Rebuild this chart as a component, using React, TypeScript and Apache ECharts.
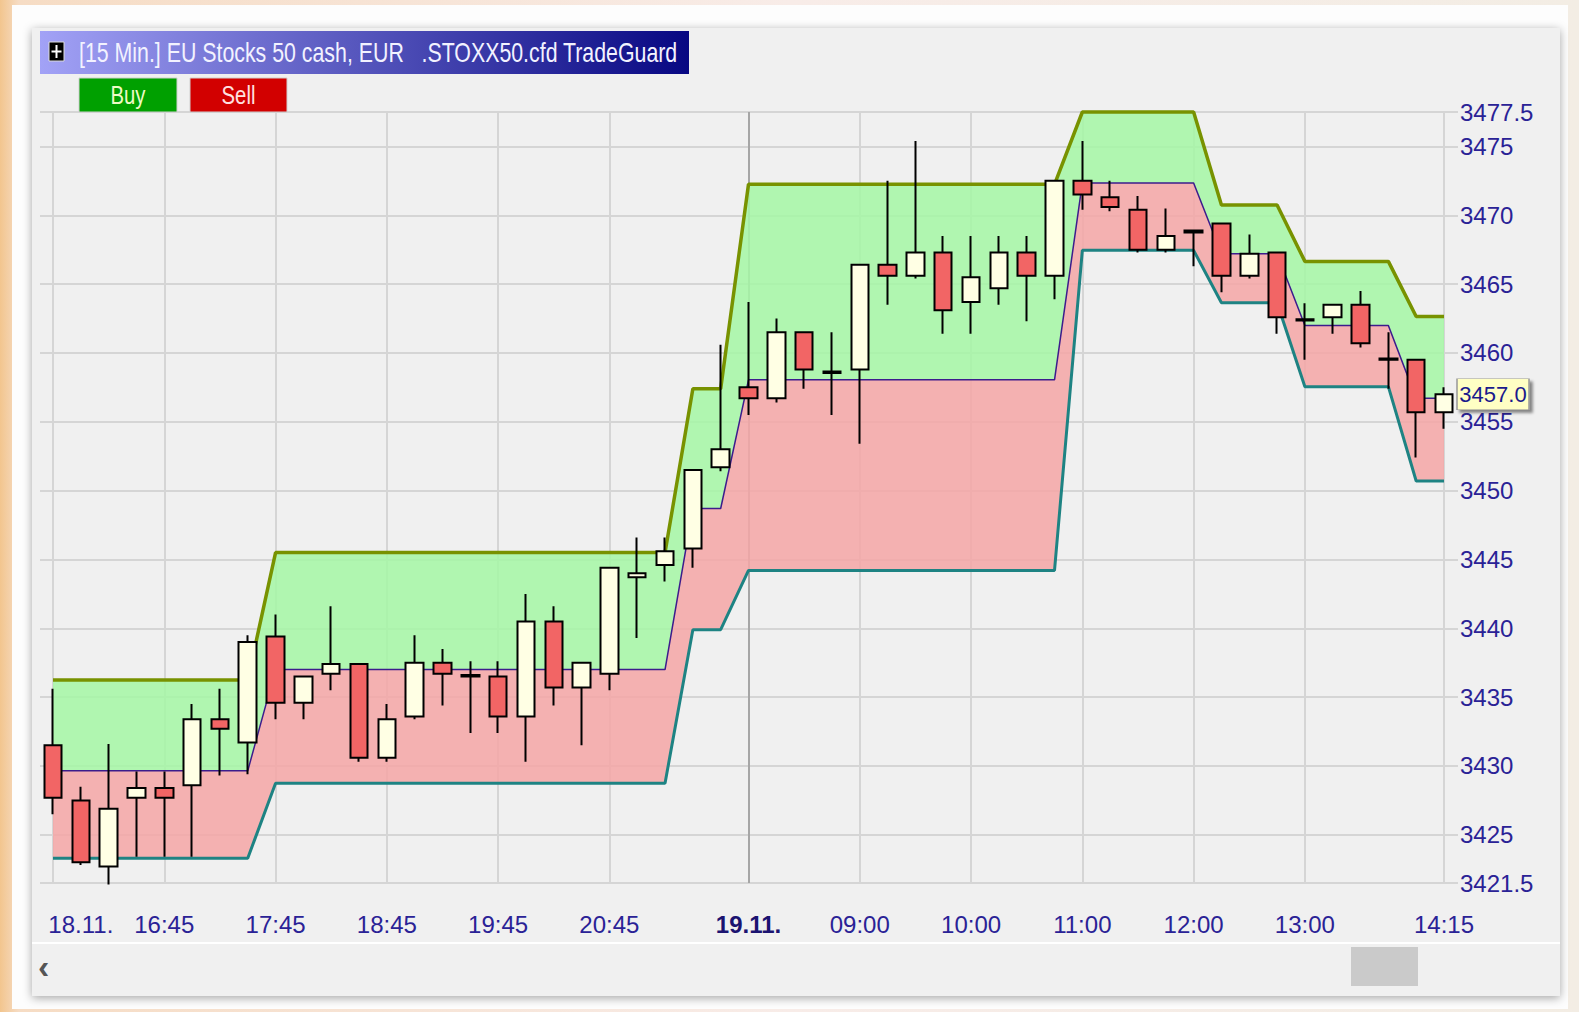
import React, { useEffect, useRef } from 'react';
import * as echarts from 'echarts';

// ---------- data ----------
const times = [
  '15:45', '16:00', '16:15', '16:30', '16:45', '17:00', '17:15', '17:30', '17:45', '18:00',
  '18:15', '18:30', '18:45', '19:00', '19:15', '19:30', '19:45', '20:00', '20:15', '20:30',
  '20:45', '21:00', '21:15', '21:30', '21:45',
  '08:00', '08:15', '08:30', '08:45', '09:00', '09:15', '09:30', '09:45', '10:00', '10:15',
  '10:30', '10:45', '11:00', '11:15', '11:30', '11:45', '12:00', '12:15', '12:30', '12:45',
  '13:00', '13:15', '13:30', '13:45', '14:00', '14:15',
];

const opens = [
  3431.5, 3427.5, 3422.7, 3427.7, 3428.4, 3428.6, 3433.4, 3431.7, 3439.4, 3434.6,
  3436.7, 3437.4, 3430.6, 3433.6, 3437.5, 3436.6, 3436.5, 3433.6, 3440.5, 3435.7,
  3436.7, 3443.7, 3444.6, 3445.8, 3451.7,
  3457.5, 3456.7, 3461.5, 3458.65, 3458.8, 3466.4, 3465.6, 3467.3, 3463.7, 3464.7,
  3467.3, 3465.6, 3472.5, 3471.3, 3470.4, 3467.5, 3468.9, 3469.4, 3465.6, 3467.3,
  3462.45, 3462.6, 3463.5, 3459.6, 3459.5, 3455.7,
];
const closes = [
  3427.7, 3423.0, 3426.9, 3428.4, 3427.7, 3433.4, 3432.7, 3439.0, 3434.6, 3436.5,
  3437.4, 3430.6, 3433.4, 3437.5, 3436.7, 3436.5, 3433.6, 3440.5, 3435.7, 3437.5,
  3444.4, 3444.0, 3445.6, 3451.5, 3453.0,
  3456.7, 3461.5, 3458.8, 3458.55, 3466.4, 3465.6, 3467.3, 3463.1, 3465.5, 3467.3,
  3465.6, 3472.5, 3471.5, 3470.6, 3467.5, 3468.5, 3468.75, 3465.6, 3467.2, 3462.6,
  3462.35, 3463.5, 3460.7, 3459.5, 3455.7, 3457.0,
];
const lows = [
  3426.5, 3422.8, 3421.4, 3423.4, 3423.4, 3423.4, 3429.3, 3429.4, 3433.4, 3433.4,
  3435.5, 3430.3, 3430.3, 3433.4, 3434.4, 3432.4, 3432.4, 3430.3, 3434.4, 3431.5,
  3435.5, 3439.3, 3443.4, 3444.4, 3451.4,
  3455.5, 3456.4, 3457.4, 3455.5, 3453.4, 3463.5, 3465.4, 3461.4, 3461.4, 3463.5,
  3462.3, 3463.9, 3470.4, 3470.3, 3467.3, 3467.3, 3466.3, 3464.4, 3465.4, 3461.4,
  3459.5, 3461.4, 3460.4, 3457.4, 3452.4, 3454.5,
];
const highs = [
  3435.6, 3428.5, 3431.6, 3429.6, 3429.6, 3434.5, 3435.6, 3439.5, 3441.0, 3436.5,
  3441.6, 3437.4, 3434.5, 3439.5, 3438.5, 3437.6, 3437.6, 3442.5, 3441.6, 3437.5,
  3444.4, 3446.6, 3446.6, 3451.5, 3460.6,
  3463.7, 3462.5, 3461.5, 3461.5, 3466.4, 3472.5, 3475.4, 3468.5, 3468.5, 3468.5,
  3468.5, 3472.5, 3475.4, 3472.5, 3471.4, 3470.5, 3468.9, 3469.4, 3468.6, 3467.3,
  3463.6, 3463.5, 3464.5, 3461.5, 3459.5, 3457.5,
];

const upperBand = [
  3436.25, 3436.25, 3436.25, 3436.25, 3436.25, 3436.25, 3436.25, 3436.25,
  3445.5, 3445.5, 3445.5, 3445.5, 3445.5, 3445.5, 3445.5, 3445.5, 3445.5, 3445.5,
  3445.5, 3445.5, 3445.5, 3445.5, 3445.5,
  3457.4, 3457.4,
  3472.25, 3472.25, 3472.25, 3472.25, 3472.25, 3472.25, 3472.25, 3472.25, 3472.25, 3472.25,
  3472.25, 3472.25,
  3477.5, 3477.5, 3477.5, 3477.5, 3477.5,
  3470.75, 3470.75, 3470.75,
  3466.65, 3466.65, 3466.65, 3466.65,
  3462.65, 3462.65,
];
const middleBand = [
  3429.65, 3429.65, 3429.65, 3429.65, 3429.65, 3429.65, 3429.65, 3429.65,
  3437.0, 3437.0, 3437.0, 3437.0, 3437.0, 3437.0, 3437.0, 3437.0, 3437.0, 3437.0,
  3437.0, 3437.0, 3437.0, 3437.0, 3437.0,
  3448.7, 3448.7,
  3458.05, 3458.05, 3458.05, 3458.05, 3458.05, 3458.05, 3458.05, 3458.05, 3458.05, 3458.05,
  3458.05, 3458.05,
  3472.35, 3472.35, 3472.35, 3472.35, 3472.35,
  3467.2, 3467.2, 3467.2,
  3462.0, 3462.0, 3462.0, 3462.0,
  3456.7, 3456.7,
];
const lowerBand = [
  3423.3, 3423.3, 3423.3, 3423.3, 3423.3, 3423.3, 3423.3, 3423.3,
  3428.75, 3428.75, 3428.75, 3428.75, 3428.75, 3428.75, 3428.75, 3428.75, 3428.75, 3428.75,
  3428.75, 3428.75, 3428.75, 3428.75, 3428.75,
  3439.9, 3439.9,
  3444.2, 3444.2, 3444.2, 3444.2, 3444.2, 3444.2, 3444.2, 3444.2, 3444.2, 3444.2,
  3444.2, 3444.2,
  3467.45, 3467.45, 3467.45, 3467.45, 3467.45,
  3463.65, 3463.65, 3463.65,
  3457.55, 3457.55, 3457.55, 3457.55,
  3450.7, 3450.7,
];

// x tick labels (category -> shown text)
const xLabelTimes = ['16:00', '16:45', '17:45', '18:45', '19:45', '20:45', '08:00', '09:00', '10:00', '11:00', '12:00', '13:00', '14:15'];
const xLabelTexts = ['18.11.', '16:45', '17:45', '18:45', '19:45', '20:45', '19.11.', '09:00', '10:00', '11:00', '12:00', '13:00', '14:15'];
const gridTimes = ['15:45', '16:45', '17:45', '18:45', '19:45', '20:45', '09:00', '10:00', '11:00', '12:00', '13:00', '14:15'];
const dayBreak = '08:00';
const yMin = 3421.5;
const yMax = 3477.5;
const lastPrice = 3457.0;
const title = '[15 Min.] EU Stocks 50 cash, EUR   .STOXX50.cfd TradeGuard';

const labelFont = "'Liberation Sans', Arial, sans-serif";
const labelColor = '#2a2296';

export default function App() {
  const ref = useRef<HTMLDivElement>(null);
  useEffect(() => {
    document.body.style.margin = '0';
    document.body.style.overflow = 'hidden';
    const chart = echarts.init(ref.current!, null, { renderer: 'svg' });

    const redZone = middleBand.map((m, i) => +(m - lowerBand[i]).toFixed(3));
    const greenZone = upperBand.map((u, i) => +(u - middleBand[i]).toFixed(3));
    const candles = opens.map((o, i) => [o, closes[i], lows[i], highs[i]]);

    const option: any = {
      animation: false,
      backgroundColor: '#f7ece6',
      grid: [
        { left: 53, right: 135, top: 112, bottom: 129 },
        { left: 40, right: 121, top: 112, bottom: 129 },
      ],
      xAxis: [
        {
          type: 'category', gridIndex: 0, data: times, boundaryGap: false,
          axisLine: { show: false }, axisTick: { show: false },
          axisLabel: {
            interval: (_i: number, v: string) => xLabelTimes.includes(v),
            formatter: (v: string) => {
              const t = xLabelTexts[xLabelTimes.indexOf(v)];
              return v === dayBreak ? '{b|' + t + '}' : t;
            },
            margin: 29, fontSize: 24, fontFamily: labelFont, color: labelColor,
            rich: { b: { fontSize: 24, fontFamily: labelFont, fontWeight: 'bold', color: '#1b1370' } },
          },
          splitLine: {
            show: true,
            interval: (_i: number, v: string) => gridTimes.includes(v),
            lineStyle: { color: '#d5d5d5', width: 2 },
          },
        },
        { type: 'value', gridIndex: 1, show: false, min: 0, max: 1 },
        {
          type: 'category', gridIndex: 0, data: times, boundaryGap: false, position: 'top',
          axisLine: { show: false }, axisTick: { show: false }, axisLabel: { show: false },
          splitLine: {
            show: true,
            interval: (_i: number, v: string) => v === dayBreak,
            lineStyle: { color: '#a6a6a6', width: 2 },
          },
        },
      ],
      yAxis: [
        { type: 'value', gridIndex: 0, min: yMin, max: yMax, show: false },
        {
          type: 'value', gridIndex: 1, min: yMin, max: yMax, splitNumber: 11, position: 'right',
          axisLine: { show: false }, axisTick: { show: false },
          axisLabel: { margin: 2, fontSize: 24, fontFamily: labelFont, color: labelColor, formatter: (v: number) => String(v) },
          splitLine: { show: true, lineStyle: { color: '#d5d5d5', width: 2 } },
        },
      ],
      graphic: [
        {
          type: 'rect', z: -30, shape: { x: 0, y: 0, width: 1579, height: 1012 },
          style: {
            fill: new echarts.graphic.LinearGradient(0, 0, 1, 0, [
              { offset: 0, color: '#f2c58e' },
              { offset: 0.012, color: '#f6dcc4' },
              { offset: 0.5, color: '#f8ece8' },
              { offset: 1, color: '#f3ede4' },
            ]),
          },
        },
        { type: 'rect', z: -20, shape: { x: 12, y: 5, width: 1556, height: 1004 }, style: { fill: '#fdfdfd' } },
        {
          type: 'rect', z: -10, shape: { x: 32, y: 28, width: 1528, height: 968 },
          style: { fill: '#f0f0f0', shadowBlur: 10, shadowColor: 'rgba(0,0,0,0.35)', shadowOffsetY: 2 },
        },
        { type: 'line', z: -5, shape: { x1: 32, y1: 943, x2: 1560, y2: 943 }, style: { stroke: '#ffffff', lineWidth: 2 } },
        { type: 'rect', z: -5, shape: { x: 1351, y: 947, width: 67, height: 39 }, style: { fill: '#cacaca' } },
        { type: 'text', z: 10, x: 38, y: 966, style: { text: '‹', fontSize: 34, fontWeight: 'bold', fill: '#555', verticalAlign: 'middle', fontFamily: 'Liberation Sans' } },
        {
          type: 'rect', z: 10, shape: { x: 40, y: 31, width: 649, height: 43 },
          style: {
            fill: new echarts.graphic.LinearGradient(0, 0, 1, 0, [
              { offset: 0, color: '#a2a2f6' },
              { offset: 1, color: '#070782' },
            ]),
          },
        },
        { type: 'rect', z: 11, shape: { x: 49, y: 42, width: 15, height: 19 }, style: { fill: '#000', stroke: '#dcdcdc', lineWidth: 1 } },
        { type: 'line', z: 12, shape: { x1: 51.5, y1: 51.5, x2: 61.5, y2: 51.5 }, style: { stroke: '#fff', lineWidth: 2 } },
        { type: 'line', z: 12, shape: { x1: 56.5, y1: 45, x2: 56.5, y2: 58 }, style: { stroke: '#fff', lineWidth: 2 } },
        {
          type: 'text', z: 12, x: 79, y: 53, scaleX: 0.79,
          style: { text: title, fontSize: 27, fontFamily: 'Liberation Sans', fill: '#f2f2ff', verticalAlign: 'middle', align: 'left' },
        },
        { type: 'rect', z: 10, shape: { x: 79, y: 78, width: 98, height: 34 }, style: { fill: '#00a000', stroke: '#d0d0d0', lineWidth: 1 } },
        {
          type: 'text', z: 12, x: 128, y: 95, scaleX: 0.78,
          style: { text: 'Buy', fontSize: 26, fontFamily: 'Liberation Sans', fill: '#eefbc6', verticalAlign: 'middle', align: 'center' },
        },
        { type: 'rect', z: 10, shape: { x: 190, y: 78, width: 97, height: 34 }, style: { fill: '#d20000', stroke: '#d0d0d0', lineWidth: 1 } },
        {
          type: 'text', z: 12, x: 238.5, y: 95, scaleX: 0.78,
          style: { text: 'Sell', fontSize: 26, fontFamily: 'Liberation Sans', fill: '#ffe0e0', verticalAlign: 'middle', align: 'center' },
        },
      ],
      series: [
        {
          type: 'line', name: 'base', data: lowerBand, stack: 'band', symbol: 'none', silent: true,
          lineStyle: { opacity: 0 }, clip: false, z: 2,
        },
        {
          type: 'line', name: 'sell zone', data: redZone, stack: 'band', symbol: 'none', silent: true,
          lineStyle: { opacity: 0 }, areaStyle: { color: 'rgba(244,167,167,0.88)', opacity: 1 }, clip: false, z: 2,
        },
        {
          type: 'line', name: 'buy zone', data: greenZone, stack: 'band', symbol: 'none', silent: true,
          lineStyle: { opacity: 0 }, areaStyle: { color: 'rgba(166,246,166,0.88)', opacity: 1 }, clip: false, z: 2,
        },
        {
          type: 'line', name: 'lower', data: lowerBand, symbol: 'none', silent: true, clip: false, z: 3,
          lineStyle: { color: '#1e8383', width: 3 },
        },
        {
          type: 'line', name: 'middle', data: middleBand, symbol: 'none', silent: true, clip: false, z: 3,
          lineStyle: { color: '#3c1c8c', width: 1.5 },
        },
        {
          type: 'line', name: 'upper', data: upperBand, symbol: 'none', silent: true, clip: false, z: 3,
          lineStyle: { color: '#789200', width: 3.5 },
        },
        {
          type: 'candlestick', name: 'STOXX50', data: candles, barWidth: 18, clip: false, z: 6,
          itemStyle: {
            color: '#ffffe4', color0: '#f26565',
            borderColor: '#000', borderColor0: '#000', borderColorDoji: '#000', borderWidth: 2,
          },
          markPoint: {
            symbol: 'rect', symbolSize: [72, 31], symbolOffset: [49, 0], silent: true,
            data: [{ coord: [times[times.length - 1], lastPrice], value: lastPrice }],
            itemStyle: {
              color: '#ffffc4', borderColor: '#9a9a9a', borderWidth: 1,
              shadowBlur: 3, shadowColor: 'rgba(0,0,0,0.45)', shadowOffsetX: 3, shadowOffsetY: 3,
            },
            label: {
              show: true, position: 'inside', formatter: () => lastPrice.toFixed(1),
              fontSize: 22, fontFamily: labelFont, color: '#1a1a8c',
            },
          },
        },
      ],
    };
    chart.setOption(option);
    return () => chart.dispose();
  }, []);
  return <div ref={ref} style={{ position: 'absolute', left: 0, top: 0, width: 1579, height: 1012 }} />;
}
